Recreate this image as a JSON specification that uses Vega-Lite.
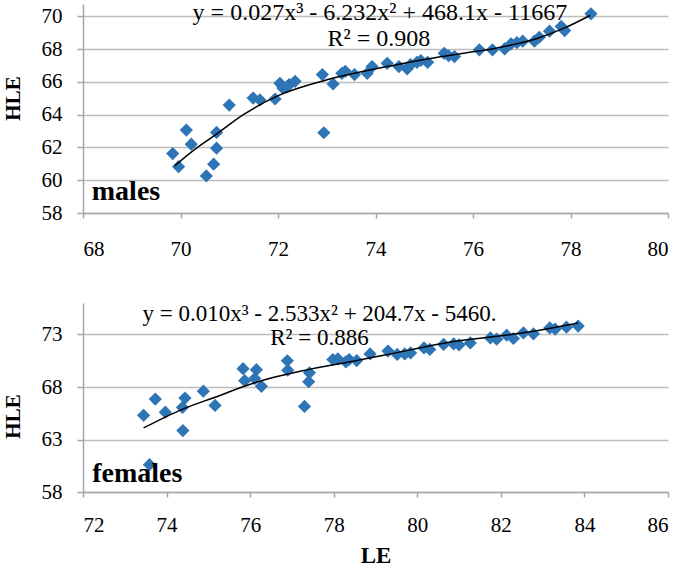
{
  "$schema": "https://vega.github.io/schema/vega-lite/v6.json",
  "padding": {"left": 2, "top": 1, "right": 5, "bottom": 0},
  "background": "white",
  "bounds": "flush",
  "spacing": 90,
  "config": {
    "view": {"stroke": null},
    "font": "Liberation Serif",
    "axis": {
      "labelFont": "Liberation Serif",
      "labelFontSize": 21,
      "labelColor": "#000000",
      "titleFont": "Liberation Serif",
      "titleFontWeight": "bold",
      "titleColor": "#000000",
      "domainColor": "#a6a6a6",
      "domainWidth": 1.5,
      "tickColor": "#a6a6a6",
      "tickWidth": 1.5,
      "gridColor": "#bdbdbd",
      "gridWidth": 1.5
    }
  },
  "datasets": {
    "males": [
      {"LE": 69.84, "HLE": 61.63}, {"LE": 69.96, "HLE": 60.83}, {"LE": 70.12, "HLE": 63.06},
      {"LE": 70.22, "HLE": 62.2}, {"LE": 70.53, "HLE": 60.26}, {"LE": 70.68, "HLE": 60.98},
      {"LE": 70.74, "HLE": 62.92}, {"LE": 70.74, "HLE": 61.96}, {"LE": 71.0, "HLE": 64.59},
      {"LE": 71.49, "HLE": 65.02}, {"LE": 71.63, "HLE": 64.9}, {"LE": 71.94, "HLE": 64.96},
      {"LE": 72.04, "HLE": 65.92}, {"LE": 72.1, "HLE": 65.63}, {"LE": 72.23, "HLE": 65.84},
      {"LE": 72.35, "HLE": 66.04}, {"LE": 72.18, "HLE": 65.7}, {"LE": 72.91, "HLE": 66.45},
      {"LE": 72.94, "HLE": 62.9}, {"LE": 73.13, "HLE": 65.88}, {"LE": 73.31, "HLE": 66.53},
      {"LE": 73.38, "HLE": 66.65}, {"LE": 73.57, "HLE": 66.45}, {"LE": 73.83, "HLE": 66.53},
      {"LE": 73.93, "HLE": 66.94}, {"LE": 74.24, "HLE": 67.14}, {"LE": 74.48, "HLE": 66.94},
      {"LE": 74.65, "HLE": 66.8}, {"LE": 74.72, "HLE": 67.06}, {"LE": 74.85, "HLE": 67.2},
      {"LE": 74.93, "HLE": 67.31}, {"LE": 75.07, "HLE": 67.2}, {"LE": 75.41, "HLE": 67.75},
      {"LE": 75.5, "HLE": 67.6}, {"LE": 75.62, "HLE": 67.55}, {"LE": 76.13, "HLE": 67.96},
      {"LE": 76.4, "HLE": 67.96}, {"LE": 76.65, "HLE": 68.02}, {"LE": 76.78, "HLE": 68.33},
      {"LE": 76.9, "HLE": 68.4}, {"LE": 77.02, "HLE": 68.49}, {"LE": 77.26, "HLE": 68.49},
      {"LE": 77.36, "HLE": 68.73}, {"LE": 77.57, "HLE": 69.1}, {"LE": 77.81, "HLE": 69.39},
      {"LE": 77.88, "HLE": 69.14}, {"LE": 78.42, "HLE": 70.16}
    ],
    "malesFit": [
      {"LE": 69.88, "HLE": 60.88}, {"LE": 70.3, "HLE": 61.9}, {"LE": 70.74, "HLE": 62.82},
      {"LE": 71.29, "HLE": 64.0}, {"LE": 71.97, "HLE": 65.12}, {"LE": 72.94, "HLE": 66.08},
      {"LE": 73.6, "HLE": 66.55}, {"LE": 74.31, "HLE": 66.98}, {"LE": 75.13, "HLE": 67.43},
      {"LE": 75.8, "HLE": 67.75}, {"LE": 76.5, "HLE": 68.08}, {"LE": 77.33, "HLE": 68.67},
      {"LE": 77.88, "HLE": 69.3}, {"LE": 78.4, "HLE": 70.06}
    ],
    "malesText": [
      {"LE": 74.09, "HLE": 69.76, "label": "y = 0.027x³ - 6.232x² + 468.1x - 11667"},
      {"LE": 74.07, "HLE": 68.22, "label": "R² = 0.908"}
    ],
    "malesTag": [{"LE": 68.18, "HLE": 58.8, "label": "males"}],
    "females": [
      {"LE": 73.45, "HLE": 65.3}, {"LE": 73.73, "HLE": 66.85}, {"LE": 73.97, "HLE": 65.6},
      {"LE": 74.38, "HLE": 66.05}, {"LE": 74.44, "HLE": 66.95}, {"LE": 74.39, "HLE": 63.85},
      {"LE": 73.59, "HLE": 60.6}, {"LE": 74.88, "HLE": 67.6}, {"LE": 75.16, "HLE": 66.25},
      {"LE": 75.83, "HLE": 69.75}, {"LE": 75.87, "HLE": 68.6}, {"LE": 76.15, "HLE": 69.65},
      {"LE": 76.11, "HLE": 68.8}, {"LE": 76.27, "HLE": 68.07}, {"LE": 76.89, "HLE": 70.5},
      {"LE": 76.9, "HLE": 69.6}, {"LE": 77.3, "HLE": 66.15}, {"LE": 77.42, "HLE": 69.35},
      {"LE": 77.4, "HLE": 68.5}, {"LE": 77.98, "HLE": 70.62}, {"LE": 78.1, "HLE": 70.67},
      {"LE": 78.29, "HLE": 70.4}, {"LE": 78.37, "HLE": 70.62}, {"LE": 78.55, "HLE": 70.52},
      {"LE": 78.87, "HLE": 71.15}, {"LE": 79.3, "HLE": 71.42}, {"LE": 79.52, "HLE": 71.1},
      {"LE": 79.7, "HLE": 71.15}, {"LE": 79.84, "HLE": 71.25}, {"LE": 80.16, "HLE": 71.72},
      {"LE": 80.3, "HLE": 71.58}, {"LE": 80.63, "HLE": 72.05}, {"LE": 80.87, "HLE": 72.1},
      {"LE": 81.0, "HLE": 72.02}, {"LE": 81.27, "HLE": 72.2}, {"LE": 81.75, "HLE": 72.67},
      {"LE": 81.9, "HLE": 72.55}, {"LE": 82.14, "HLE": 72.93}, {"LE": 82.3, "HLE": 72.62},
      {"LE": 82.54, "HLE": 73.15}, {"LE": 82.78, "HLE": 73.06}, {"LE": 83.17, "HLE": 73.63},
      {"LE": 83.3, "HLE": 73.52}, {"LE": 83.57, "HLE": 73.7}, {"LE": 83.85, "HLE": 73.8}
    ],
    "femalesFit": [
      {"LE": 73.45, "HLE": 64.1}, {"LE": 74.36, "HLE": 65.85}, {"LE": 75.16, "HLE": 67.03},
      {"LE": 76.11, "HLE": 68.4}, {"LE": 77.3, "HLE": 69.58}, {"LE": 78.49, "HLE": 70.47},
      {"LE": 79.29, "HLE": 71.1}, {"LE": 80.95, "HLE": 72.37}, {"LE": 82.54, "HLE": 73.16},
      {"LE": 83.85, "HLE": 74.1}
    ],
    "femalesText": [
      {"LE": 77.66, "HLE": 74.33, "label": "y = 0.010x³ - 2.533x² + 204.7x - 5460."},
      {"LE": 77.66, "HLE": 72.03, "label": "R² = 0.886"}
    ],
    "femalesTag": [{"LE": 72.22, "HLE": 58.98, "label": "females"}]
  },
  "vconcat": [
    {
      "width": 585,
      "height": 209,
      "encoding": {
        "x": {"field": "LE", "type": "quantitative",
              "scale": {"domain": [68, 80], "nice": false, "zero": false},
              "axis": {"values": [68, 70, 72, 74, 76, 78, 80], "grid": false, "tickSize": 5, "labelPadding": 20, "title": null,
                       "labelFont": "Liberation Serif"}},
        "y": {"field": "HLE", "type": "quantitative",
              "scale": {"domain": [58, 70.76], "nice": false, "zero": false},
              "axis": {"values": [58, 60, 62, 64, 66, 68, 70], "grid": true, "tickSize": 6, "labelPadding": 15,
                       "labelFont": "Liberation Serif",
                       "title": "HLE", "titleFontSize": 21, "titlePadding": 18, "titleY": 94}}
      },
      "layer": [
        {"data": {"name": "males"}, "mark": {"type": "point", "shape": "diamond", "filled": true, "size": 175, "color": "#2e75b6", "opacity": 1}},
        {"data": {"name": "malesFit"}, "mark": {"type": "line", "color": "#000000", "strokeWidth": 1.5, "interpolate": "monotone"}},
        {"data": {"name": "malesText"}, "mark": {"type": "text", "align": "center", "baseline": "alphabetic", "fontSize": 24, "color": "#000000", "font": "Liberation Serif"},
         "encoding": {"text": {"field": "label"}}},
        {"data": {"name": "malesTag"}, "mark": {"type": "text", "align": "left", "baseline": "alphabetic", "fontSize": 28, "fontWeight": "bold", "color": "#000000", "font": "Liberation Serif"},
         "encoding": {"text": {"field": "label"}}}
      ]
    },
    {
      "width": 585,
      "height": 189,
      "encoding": {
        "x": {"field": "LE", "type": "quantitative",
              "scale": {"domain": [72, 86], "nice": false, "zero": false},
              "axis": {"values": [72, 74, 76, 78, 80, 82, 84, 86], "grid": false, "tickSize": 5, "labelPadding": 17,
                       "labelFont": "Liberation Serif",
                       "title": "LE", "titleFontSize": 23, "titlePadding": 9}},
        "y": {"field": "HLE", "type": "quantitative",
              "scale": {"domain": [58, 76], "nice": false, "zero": false},
              "axis": {"values": [58, 63, 68, 73], "grid": true, "tickSize": 6, "labelPadding": 15,
                       "labelFont": "Liberation Serif",
                       "title": "HLE", "titleFontSize": 21, "titlePadding": 18, "titleY": 113}}
      },
      "layer": [
        {"data": {"name": "females"}, "mark": {"type": "point", "shape": "diamond", "filled": true, "size": 175, "color": "#2e75b6", "opacity": 1}},
        {"data": {"name": "femalesFit"}, "mark": {"type": "line", "color": "#000000", "strokeWidth": 1.5, "interpolate": "monotone"}},
        {"data": {"name": "femalesText"}, "mark": {"type": "text", "align": "center", "baseline": "alphabetic", "fontSize": 23, "color": "#000000", "font": "Liberation Serif"},
         "encoding": {"text": {"field": "label"}}},
        {"data": {"name": "femalesTag"}, "mark": {"type": "text", "align": "left", "baseline": "alphabetic", "fontSize": 28, "fontWeight": "bold", "color": "#000000", "font": "Liberation Serif"},
         "encoding": {"text": {"field": "label"}}}
      ]
    }
  ]
}
